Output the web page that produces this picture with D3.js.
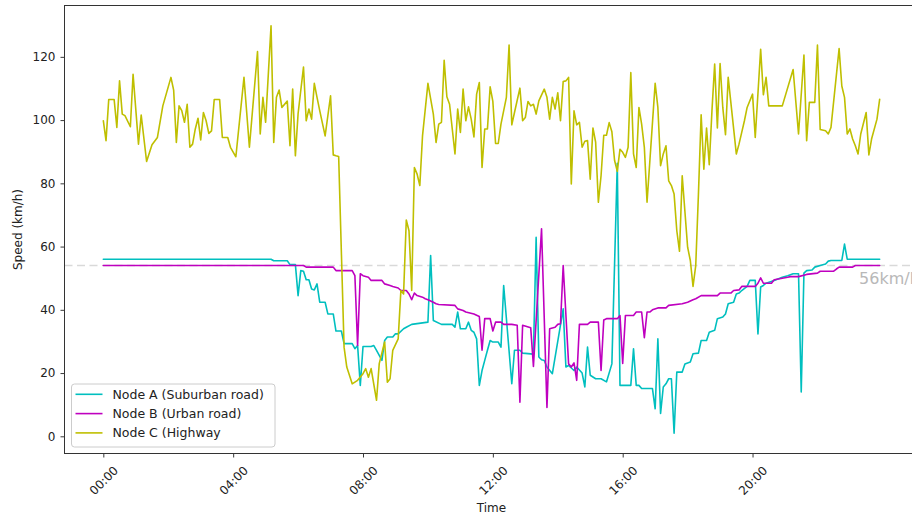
<!DOCTYPE html>
<html>
<head>
<meta charset="utf-8">
<script src="https://cdn.jsdelivr.net/npm/d3@7"></script>
<style>
  body { margin: 0; background: #fff; }
  svg { display: block; font-family: 'DejaVu Sans', sans-serif; }
</style>
</head>
<body>
<div id="chart"></div>
<script>
// speed readings: [minutes after midnight, km/h]
const nodeA = [
  [0, 56], [310, 56], [315, 55.5], [340, 55.5], [345, 54.3], [355, 54.3], [360, 44.5], [365, 52.4],
  [370, 52.2], [375, 49.5], [380, 49.5], [385, 46.6], [390, 46.3], [395, 48.2], [400, 42.4], [410, 42.4],
  [415, 38.7], [425, 38.7], [430, 33.3], [440, 33.3], [445, 29.3], [460, 29.3], [465, 27.7], [470, 28.7],
  [475, 16.1], [480, 28.4], [495, 28.4], [500, 28.7], [505, 27.2], [515, 24], [520, 30.3], [525, 31.4],
  [535, 31.4], [540, 32.4], [545, 32.4], [555, 34], [560, 34.5], [570, 35.4], [600, 36.1], [605, 57.2],
  [610, 36.6], [625, 35.4], [645, 35.4], [650, 34.5], [655, 39.3], [660, 34], [670, 34], [675, 36.1],
  [680, 33.5], [685, 32.9], [690, 30.8], [695, 16.1], [700, 20.8], [705, 24], [710, 27.2], [715, 30.3],
  [720, 29.8], [730, 29.8], [735, 28.2], [740, 47.7], [755, 16.6], [760, 27.2], [770, 27.2], [775, 26.3],
  [795, 26], [800, 62.9], [805, 25.1], [810, 24.2], [815, 24], [820, 21.9], [830, 19.8], [850, 40.3],
  [855, 21.9], [860, 22.4], [870, 20.8], [875, 21.9], [885, 20], [890, 15.6], [895, 28.2], [900, 19.3],
  [910, 18.2], [920, 18.2], [930, 17.2], [940, 22.9], [950, 86.3], [955, 16.1], [975, 16.1], [980, 27.7],
  [985, 16.1], [990, 16.1], [995, 15.1], [1015, 15.1], [1020, 8.7], [1025, 30.8], [1030, 7.2], [1035, 15.6],
  [1040, 16.6], [1045, 18.2], [1050, 18.2], [1055, 1], [1060, 20.3], [1070, 20.3], [1075, 22.9], [1085, 23.5],
  [1090, 26.1], [1100, 26.3], [1105, 30.3], [1115, 30.3], [1120, 32.9], [1130, 33.5], [1135, 37.2], [1145, 37.7],
  [1150, 38.7], [1155, 41.9], [1165, 42.4], [1170, 45], [1175, 45.3], [1180, 46.1], [1190, 47.4], [1195, 49.3],
  [1205, 49.3], [1210, 32.4], [1215, 47.2], [1220, 47.7], [1225, 48.4], [1240, 49.3], [1255, 50.3], [1265, 50.8],
  [1275, 51.4], [1285, 51.4], [1290, 14], [1295, 51.6], [1300, 52.4], [1310, 52.6], [1315, 53.5], [1325, 54],
  [1335, 54.5], [1340, 55.4], [1345, 55.6], [1365, 55.6], [1370, 60.8], [1375, 56], [1435, 56]
];

const nodeB = [
  [0, 54], [370, 54], [375, 53.5], [425, 53.5], [430, 52.4], [460, 52.4], [465, 50.8], [470, 28.7],
  [475, 51.4], [480, 50.8], [490, 50.3], [495, 49.3], [515, 49.3], [520, 48.2], [530, 47.7], [535, 47.4],
  [545, 46.9], [550, 46.1], [560, 46.1], [565, 45], [570, 43.2], [575, 45.3], [580, 44.5], [590, 44],
  [595, 43.5], [600, 43.2], [610, 42.4], [615, 41.9], [620, 41.7], [650, 41.4], [655, 40.3], [665, 39.8],
  [670, 39.3], [685, 38.7], [695, 37.9], [700, 27.2], [705, 37.2], [715, 37.2], [720, 33.3], [725, 36.1],
  [735, 36.1], [740, 35.4], [755, 35.4], [765, 35.1], [770, 10.8], [775, 35.1], [790, 34.3], [795, 22.1],
  [810, 65.6], [820, 9.1], [825, 34], [835, 34.5], [840, 35.4], [845, 35.6], [850, 54], [860, 22.9],
  [865, 21.9], [870, 23.2], [875, 17.7], [880, 35.4], [895, 35.4], [900, 36.1], [915, 36.1], [920, 20.8],
  [925, 36.8], [930, 37.2], [950, 37.2], [955, 38.2], [960, 23], [965, 38.2], [980, 38.2], [985, 39.3],
  [995, 39.3], [1000, 31.2], [1005, 39.3], [1010, 39.3], [1015, 40], [1025, 40.6], [1040, 40.6], [1045, 41.4],
  [1070, 41.9], [1080, 42.4], [1090, 43.2], [1095, 43.5], [1105, 44.5], [1135, 44.5], [1140, 45.3], [1160, 45.3],
  [1165, 46.1], [1175, 46.3], [1180, 47.4], [1205, 47.4], [1210, 48.4], [1215, 50.1], [1220, 48.4], [1235, 48.4],
  [1240, 49.5], [1265, 50.3], [1270, 50.5], [1285, 50.5], [1300, 51.2], [1320, 51.6], [1325, 52.2], [1350, 52.2],
  [1355, 52.9], [1360, 53.5], [1385, 53.5], [1390, 54], [1435, 54]
];

const nodeC = [
  [0, 99.8], [5, 93.5], [10, 106.5], [20, 106.5], [25, 97.7], [30, 112.4], [35, 101.9], [40, 101.4],
  [50, 97.9], [55, 114.5], [65, 92.4], [70, 101.6], [80, 86.9], [90, 92.2], [100, 94.5], [110, 104.5],
  [125, 113.5], [130, 109.5], [135, 92.9], [140, 104.5], [145, 103], [150, 99.3], [155, 105], [160, 91.4],
  [165, 92.4], [170, 97.2], [175, 100.6], [180, 93.7], [185, 102.4], [190, 99.8], [195, 95.8], [200, 96.6],
  [205, 106.5], [215, 106.5], [220, 94.5], [230, 94.5], [235, 91.4], [245, 88.4], [260, 113.5], [270, 91.4],
  [285, 121.7], [290, 95.6], [295, 107.2], [300, 99.3], [310, 129.8], [315, 92.9], [320, 107.2], [325, 109.5],
  [330, 104], [340, 106], [345, 91.9], [350, 109.8], [355, 88.7], [360, 102], [370, 116.8], [375, 99.8],
  [380, 103.5], [385, 100.3], [390, 111.6], [395, 107.2], [400, 103], [410, 95], [420, 107.7], [425, 89],
  [430, 88.7], [435, 88.5], [445, 28.2], [450, 21.9], [460, 16.6], [470, 17.7], [480, 19.8], [485, 21.4],
  [490, 18.7], [495, 21.4], [505, 11.4], [510, 23], [520, 29.8], [525, 17.1], [530, 18.2], [535, 27.2],
  [545, 30.8], [550, 46.1], [555, 45], [560, 68.4], [565, 65], [570, 46.1], [575, 85], [580, 82.9],
  [585, 79.3], [590, 95], [600, 111.6], [610, 101.9], [615, 92.9], [620, 98.7], [625, 99.3], [630, 118.9],
  [635, 107.4], [640, 105], [650, 89.3], [655, 103.5], [660, 96.1], [665, 109.8], [670, 99.8], [675, 104.2],
  [680, 100.3], [685, 94.7], [690, 108.2], [695, 111.9], [700, 85], [705, 97.2], [710, 97.2], [715, 110.5],
  [720, 105.9], [725, 92.6], [730, 92.6], [735, 98.7], [745, 107.2], [750, 123.7], [755, 98.5], [760, 102.4],
  [770, 110.1], [775, 99.8], [780, 100.8], [785, 105.9], [790, 104.5], [795, 105], [800, 101.9], [805, 106.1],
  [815, 109.8], [820, 107.2], [825, 100.3], [830, 107.2], [835, 103.5], [840, 108.6], [845, 99.8], [850, 112.2],
  [855, 112.4], [860, 113.5], [865, 79.8], [870, 102.9], [875, 98.5], [880, 99.3], [885, 91.4], [890, 93.3],
  [895, 93.5], [900, 81.3], [905, 97.5], [910, 93], [915, 74], [920, 82.4], [925, 95.2], [930, 95.2],
  [935, 99.2], [940, 96.3], [945, 87.2], [950, 83.8], [955, 90.8], [960, 89.8], [965, 88.2], [970, 91.4],
  [975, 115], [980, 89.3], [985, 85], [990, 104], [995, 98.7], [1000, 91.4], [1005, 74], [1020, 111.6],
  [1025, 104], [1030, 85.6], [1035, 89.3], [1040, 91.9], [1045, 80.8], [1050, 79.3], [1055, 76.6], [1060, 65],
  [1065, 58.5], [1070, 82.4], [1080, 59.8], [1085, 55.6], [1090, 47.4], [1095, 54], [1100, 76.6], [1105, 101.7],
  [1110, 84.5], [1115, 97.5], [1120, 85.9], [1125, 103], [1130, 117.7], [1135, 97.5], [1140, 117.9], [1145, 104],
  [1150, 95.4], [1155, 113.5], [1170, 89.3], [1175, 92.4], [1180, 96.1], [1185, 99.8], [1190, 104], [1200, 108.2],
  [1205, 94.5], [1215, 122.4], [1220, 108], [1225, 113.5], [1230, 104.5], [1255, 104.5], [1275, 116], [1285, 95.6],
  [1295, 120.6], [1300, 93.5], [1305, 105.6], [1315, 105.6], [1320, 123.7], [1325, 97], [1335, 96.6], [1340, 95.6],
  [1345, 97.7], [1360, 122.6], [1365, 110.8], [1370, 107.2], [1375, 95.6], [1380, 97.2], [1385, 94], [1390, 91.9],
  [1395, 89.3], [1400, 95.6], [1410, 102.4], [1415, 89], [1420, 94], [1430, 100.3], [1435, 106.6]
];

const seriesNames = ['Node A (Suburban road)', 'Node B (Urban road)', 'Node C (Highway'];
const seriesColors = ['#00bfbf', '#bf00bf', '#bfbf00'];
const xTicks = [0, 240, 480, 720, 960, 1200];
const yTicks = [0, 20, 40, 60, 80, 100, 120];
const limitSpeed = 54;
const limitLabel = '56km/h';

const width = 912;
const height = 521;
// axes box (right edge falls just outside the picture, like the original)
const box = { left: 64.5, top: 5.5, right: 918.5, bottom: 453.5 };

const series = [nodeA, nodeB, nodeC];
const allPts = series.flat();

// matplotlib style 5% margins
const pad = ([a, b]) => [a - (b - a) * 0.05, b + (b - a) * 0.05];

const x = d3.scaleLinear()
  .domain(pad(d3.extent(allPts, (d) => d[0])))
  .range([box.left, box.right]);

const y = d3.scaleLinear()
  .domain(pad(d3.extent(allPts, (d) => d[1])))
  .range([box.bottom, box.top]);

const svg = d3.select('#chart')
  .append('svg')
  .attr('width', width)
  .attr('height', height);

svg.append('defs').append('clipPath')
  .attr('id', 'plot-clip')
  .append('rect')
  .attr('x', box.left)
  .attr('y', box.top)
  .attr('width', box.right - box.left)
  .attr('height', box.bottom - box.top);

const plot = svg.append('g').attr('clip-path', 'url(#plot-clip)');

// speed limit reference line
plot.append('line')
  .attr('x1', box.left)
  .attr('x2', box.right)
  .attr('y1', y(limitSpeed))
  .attr('y2', y(limitSpeed))
  .attr('stroke', '#d9d9d9')
  .attr('stroke-width', 1.5)
  .attr('stroke-dasharray', '8,4.5');

const line = d3.line()
  .x((d) => x(d[0]))
  .y((d) => y(d[1]));

series.forEach((s, i) => {
  plot.append('path')
    .datum(s)
    .attr('d', line)
    .attr('fill', 'none')
    .attr('stroke', seriesColors[i])
    .attr('stroke-width', 1.6)
    .attr('stroke-linejoin', 'round')
    .attr('stroke-linecap', 'round');
});

svg.append('text')
  .attr('x', x(1395) + 1)
  .attr('y', y(limitSpeed) + 18)
  .attr('fill', '#b8b8b8')
  .style('font-size', '16px')
  .text(limitLabel);

// axes
const fmt = (m) => d3.format('02d')(Math.floor(m / 60)) + ':' + d3.format('02d')(m % 60);

const xAxis = svg.append('g')
  .attr('transform', `translate(0,${box.bottom})`)
  .call(d3.axisBottom(x).tickValues(xTicks).tickFormat(fmt).tickSize(4).tickPadding(0));

xAxis.select('.domain').remove();
xAxis.selectAll('line').attr('stroke', '#222').attr('stroke-width', 0.9);
xAxis.selectAll('text')
  .attr('y', null)
  .attr('dy', '0.35em')
  .attr('transform', 'translate(0,27) rotate(-45)')
  .attr('text-anchor', 'middle')
  .attr('fill', '#222')
  .style('font-size', '12px')
  .style('font-family', 'DejaVu Sans');

const yAxis = svg.append('g')
  .attr('transform', `translate(${box.left},0)`)
  .call(d3.axisLeft(y).tickValues(yTicks).tickSize(4).tickPadding(5));

yAxis.select('.domain').remove();
yAxis.selectAll('line').attr('stroke', '#222').attr('stroke-width', 0.9);
yAxis.selectAll('text')
  .attr('fill', '#222')
  .style('font-size', '12px')
  .style('font-family', 'DejaVu Sans');

// spines
svg.append('rect')
  .attr('x', box.left)
  .attr('y', box.top)
  .attr('width', box.right - box.left)
  .attr('height', box.bottom - box.top)
  .attr('fill', 'none')
  .attr('stroke', '#333')
  .attr('stroke-width', 1);

svg.append('text')
  .attr('transform', `translate(18,${(box.top + box.bottom) / 2}) rotate(-90)`)
  .attr('text-anchor', 'middle')
  .attr('dy', '0.35em')
  .attr('fill', '#222')
  .style('font-size', '12px')
  .text('Speed (km/h)');

svg.append('text')
  .attr('x', (box.left + box.right) / 2)
  .attr('y', 512)
  .attr('text-anchor', 'middle')
  .attr('fill', '#222')
  .style('font-size', '12px')
  .text('Time');

// legend
const legend = svg.append('g').attr('transform', 'translate(71.5,384)');

legend.append('rect')
  .attr('width', 203.5)
  .attr('height', 63)
  .attr('rx', 3)
  .attr('fill', 'rgba(255,255,255,0.8)')
  .attr('stroke', '#cccccc')
  .attr('stroke-width', 1);

seriesNames.forEach((name, i) => {
  const ly = 10.3 + i * 19.3;
  legend.append('line')
    .attr('x1', 4)
    .attr('x2', 31)
    .attr('y1', ly)
    .attr('y2', ly)
    .attr('stroke', seriesColors[i])
    .attr('stroke-width', 1.6);
  legend.append('text')
    .attr('x', 41)
    .attr('y', ly)
    .attr('dy', '0.35em')
    .attr('fill', '#222')
    .style('font-size', '12.5px')
    .text(name);
});
</script>
</body>
</html>
